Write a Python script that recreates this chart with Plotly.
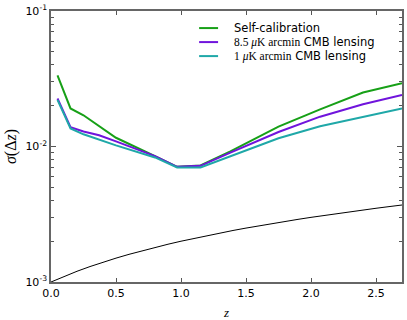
import plotly.graph_objects as go

# binned redshifts for the three calibration curves
z_bins = [0.05, 0.15, 0.25, 0.37, 0.5, 0.8, 0.97, 1.15, 1.38, 1.75, 2.07, 2.4, 2.7]
sigma_selfcal = [0.0335, 0.0191, 0.0170, 0.0142, 0.0116, 0.0085, 0.00708, 0.00724,
                 0.0092, 0.0140, 0.0188, 0.0250, 0.0293]
sigma_cmb_8p5 = [0.0226, 0.0139, 0.0129, 0.0121, 0.0109, 0.0085, 0.00708, 0.0072,
                 0.0090, 0.0128, 0.0166, 0.0205, 0.0240]
sigma_cmb_1 = [0.0221, 0.0136, 0.0123, 0.0112, 0.0102, 0.0083, 0.0070, 0.0070,
               0.0085, 0.0115, 0.0141, 0.0166, 0.0191]

# reference requirement curve
z_req = [0.0, 0.1, 0.2, 0.3, 0.4, 0.5, 0.6, 0.7, 0.8, 0.9, 1.0, 1.1, 1.2, 1.3,
         1.4, 1.5, 1.6, 1.7, 1.8, 1.9, 2.0, 2.1, 2.2, 2.3, 2.4, 2.5, 2.6, 2.7]
sigma_req = [0.0010, 0.0011, 0.0012, 0.0013, 0.0014, 0.0015, 0.0016, 0.0017,
             0.0018, 0.0019, 0.0020, 0.0021, 0.0022, 0.0023, 0.0024, 0.0025,
             0.0026, 0.0027, 0.0028, 0.0029, 0.0030, 0.0031, 0.0032, 0.0033,
             0.0034, 0.0035, 0.0036, 0.0037]

serif = "'Liberation Serif', 'DejaVu Serif', serif"
names = [
    "Self-calibration",
    f"<span style=\"font-family:{serif}\">8.5 <i>μ</i>K arcmin</span> CMB lensing",
    f"<span style=\"font-family:{serif}\">1 <i>μ</i>K arcmin</span> CMB lensing",
]
colors = ["#17a017", "#7014dc", "#1fa8a8"]
series = [sigma_selfcal, sigma_cmb_8p5, sigma_cmb_1]

fig = go.Figure()
for name, col, vals in zip(names, colors, series):
    fig.add_trace(go.Scatter(x=z_bins, y=vals, mode="lines", name=name,
                             showlegend=False, line=dict(color=col, width=2)))
fig.add_trace(go.Scatter(x=z_req, y=sigma_req, mode="lines", showlegend=False,
                         line=dict(color="black", width=1)))

# matplotlib-like compact legend (no frame), top right
leg_x, leg_y, row_h = 0.422, 0.937, 0.0517
for i, (name, col) in enumerate(zip(names, colors)):
    y = leg_y - i * row_h
    fig.add_shape(type="line", xref="paper", yref="paper",
                  x0=leg_x, x1=leg_x + 0.054, y0=y, y1=y,
                  line=dict(color=col, width=2))
    fig.add_annotation(xref="paper", yref="paper", x=leg_x + 0.094, y=y,
                       xanchor="left", yanchor="middle", text=name, showarrow=False,
                       font=dict(size=11.5))

minor_vals = [m * 10 ** e for e in (-3, -2) for m in range(2, 10)]

fig.update_layout(
    width=407, height=320,
    margin=dict(l=51, r=5, t=11, b=38),
    plot_bgcolor="white", paper_bgcolor="white",
    font=dict(family="DejaVu Sans", size=11, color="black"),
    xaxis=dict(
        range=[0, 2.7], tickvals=[0, 0.5, 1.0, 1.5, 2.0, 2.5], tickformat=".1f",
        ticks="inside", ticklen=4, tickcolor="#555", showline=True, linecolor="#666",
        linewidth=1.5, mirror="ticks", showgrid=False, zeroline=False, automargin=False,
        title=dict(text="<i>z</i>", font=dict(family=serif, size=13), standoff=20),
    ),
    yaxis=dict(
        type="log", range=[-3, -1],
        tickvals=[1e-3, 1e-2, 1e-1],
        ticktext=["10<sup>-3</sup>", "10<sup>-2</sup>", "10<sup>-1</sup>"],
        ticks="inside", ticklen=5, tickcolor="#555", showline=True, linecolor="#666",
        linewidth=1.5, mirror="ticks", showgrid=False, zeroline=False, automargin=False,
        minor=dict(tickmode="array", tickvals=minor_vals, ticks="inside",
                   ticklen=3, tickcolor="#555", showgrid=False),
        title=dict(text="<i>σ</i>(Δ<i>z</i>)", font=dict(family=serif, size=16), standoff=5),
    ),
)

fig.write_html("out.html", config={"displayModeBar": False},
               post_script="document.body.style.margin='0';")
